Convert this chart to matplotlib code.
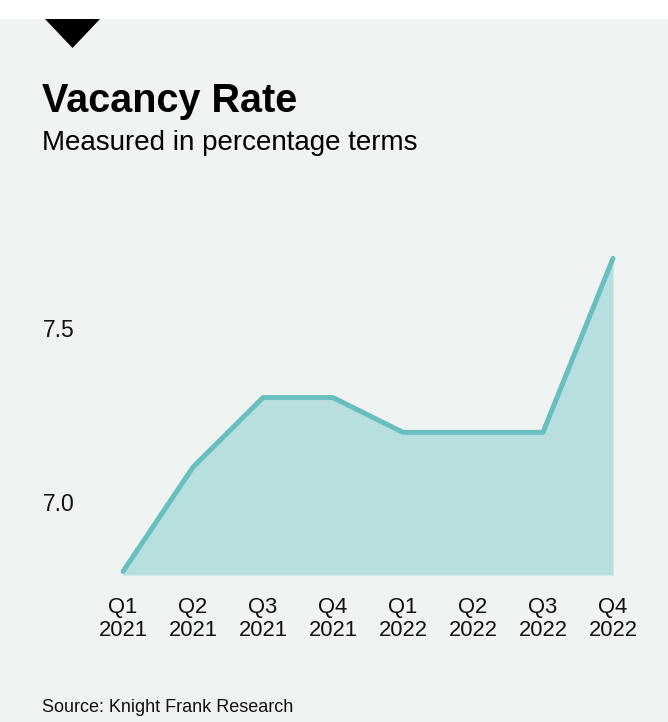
import matplotlib
matplotlib.use("Agg")
import matplotlib.pyplot as plt
from matplotlib.patches import Polygon, Rectangle

plt.rcParams['font.family'] = ['Liberation Sans', 'DejaVu Sans']

# Data
quarters = ["Q1\n2021", "Q2\n2021", "Q3\n2021", "Q4\n2021",
            "Q1\n2022", "Q2\n2022", "Q3\n2022", "Q4\n2022"]
vacancy = [6.8, 7.1, 7.3, 7.3, 7.2, 7.2, 7.2, 7.7]
yticks = [7.0, 7.5]
ytick_labels = ["7.0", "7.5"]

W, H = 668, 722
bg = "#eff3f2"
line_col = "#69bfbf"
fill_col = "#b8dfdf"

fig = plt.figure(figsize=(W / 100, H / 100), dpi=100)
fig.patch.set_facecolor("white")

def fx(px):
    return px / W

def fy(py):
    return 1 - py / H

# grey card below thin white strip
fig.patches.append(Rectangle((0, 0), 1, fy(19), transform=fig.transFigure,
                             facecolor=bg, edgecolor="none", zorder=-10))
# black marker triangle
fig.patches.append(Polygon([(fx(45), fy(19)), (fx(100), fy(19)), (fx(72.5), fy(48))],
                           closed=True, transform=fig.transFigure,
                           facecolor="black", edgecolor="none", zorder=-5))

fig.text(fx(42), fy(112), "Vacancy Rate", fontsize=28.5, fontweight="bold",
         va="baseline", ha="left")
fig.text(fx(42), fy(150), "Measured in percentage terms", fontsize=20,
         va="baseline", ha="left")
fig.text(fx(42), fy(712), "Source: Knight Frank Research", fontsize=13,
         va="baseline", ha="left", color="#111111")

# axes placement
left, right = fx(123), fx(613)
bottom, top = fy(575), fy(241)
ax = fig.add_axes([left, bottom, right - left, top - bottom])
ax.set_facecolor("none")
ax.set_zorder(5)

x = list(range(len(quarters)))
ymin = 6.79
ax.fill_between(x, vacancy, ymin, color=fill_col, linewidth=0, zorder=1)
ax.plot(x, vacancy, color=line_col, linewidth=3.6, solid_capstyle="round",
        solid_joinstyle="round", zorder=2, clip_on=False)

ax.set_xlim(0, len(quarters) - 1)
ax.set_ylim(ymin, 7.75)
ax.set_xticks(x)
ax.set_xticklabels(quarters, fontsize=15.8, linespacing=1.12)
ax.set_yticks(yticks)
ax.set_yticklabels(ytick_labels, fontsize=16.5)
ax.tick_params(axis="x", length=0, pad=16, colors="#111111")
ax.tick_params(axis="y", length=0, pad=34.5, colors="#111111")
for s in ax.spines.values():
    s.set_visible(False)

fig.savefig("out.png", dpi=100)
